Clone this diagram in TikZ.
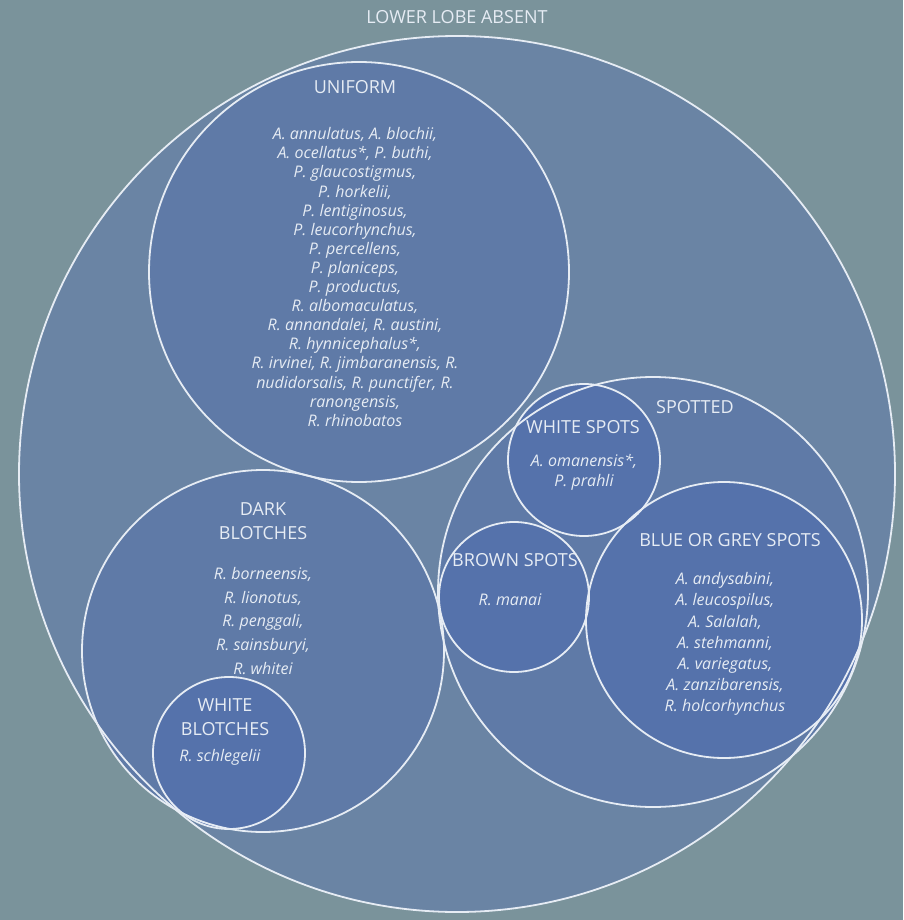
\documentclass[tikz,border=0pt]{standalone}
\usepackage{fontspec}
\setmainfont{Open Sans}
\definecolor{bgteal}{HTML}{7A939B}
\definecolor{lobefill}{HTML}{6A84A4}
\definecolor{groupfill}{HTML}{5F7AA7}
\definecolor{subfill}{HTML}{5572AB}
\definecolor{rim}{HTML}{E6ECF4}
\tikzset{
  rimline/.style={draw=rim, line width=1.8pt},
  heading/.style={text=rim, font=\fontsize{18}{24}\selectfont, align=center, inner sep=0pt},
  species/.style={text=rim, font=\fontsize{16}{19.1}\selectfont\itshape, align=center, inner sep=0pt},
}
\begin{document}
\begin{tikzpicture}[x=1pt, y=-1pt]
	\useasboundingbox (0,0) rectangle (903,920);
	\fill [bgteal] (0,0) rectangle (903,920);

	% fills
	\fill [lobefill] (457,474) circle (438);
	\fill [groupfill] (359,272) circle (210);
	\fill [groupfill] (263,651) circle (181);
	\fill [groupfill] (653,592) circle (215);
	\fill [subfill] (229,753) circle (76);
	\fill [subfill] (584,460) circle (76);
	\fill [subfill] (514,597) circle (75);
	\fill [subfill] (724,620) circle (138);

	% rims
	\draw [rimline] (457,474) circle (438);
	\draw [rimline] (359,272) circle (210);
	\draw [rimline] (263,651) circle (181);
	\draw [rimline] (653,592) circle (215);
	\draw [rimline] (229,753) circle (76);
	\draw [rimline] (584,460) circle (76);
	\draw [rimline] (514,597) circle (75);
	\draw [rimline] (724,620) circle (138);

	\node (lobe) [heading] at (457,17) {LOWER LOBE ABSENT};

	\node (uniform) [heading] at (355,87) {UNIFORM};
	\node (uniformsp) [species] at (355,277) {A. annulatus, A. blochii,\\ A. ocellatus*, P. buthi,\\ P. glaucostigmus,\\ P. horkelii,\\ P. lentiginosus,\\ P. leucorhynchus,\\ P. percellens,\\ P. planiceps,\\ P. productus,\\ R. albomaculatus,\\ R. annandalei, R. austini,\\ R. hynnicephalus*,\\ R. irvinei, R. jimbaranensis, R.\\ nudidorsalis, R. punctifer, R.\\ ranongensis,\\ R. rhinobatos};

	\node (dark) [heading] at (263,521) {DARK\\ BLOTCHES};
	\node (darksp) [species, font=\fontsize{16}{23.8}\selectfont\itshape] at (263,621) {R. borneensis,\\ R. lionotus,\\ R. penggali,\\ R. sainsburyi,\\ R. whitei};

	\node (wblotch) [heading] at (225,717) {WHITE\\ BLOTCHES};
	\node (wblotchsp) [species] at (220,757) {R. schlegelii};

	\node (spotted) [heading] at (695,407) {SPOTTED};

	\node (wspots) [heading] at (583,427) {WHITE SPOTS};
	\node (wspotssp) [species, font=\fontsize{16}{20}\selectfont\itshape] at (584,472) {A. omanensis*,\\ P. prahli};

	\node (bspots) [heading] at (515,560) {BROWN SPOTS};
	\node (bspotssp) [species] at (510,600) {R. manai};

	\node (gspots) [heading] at (730,540) {BLUE OR GREY SPOTS};
	\node (gspotssp) [species, font=\fontsize{16}{21.1}\selectfont\itshape] at (725,644) {A. andysabini,\\ A. leucospilus,\\ A. Salalah,\\ A. stehmanni,\\ A. variegatus,\\ A. zanzibarensis,\\ R. holcorhynchus};
\end{tikzpicture}
\end{document}
